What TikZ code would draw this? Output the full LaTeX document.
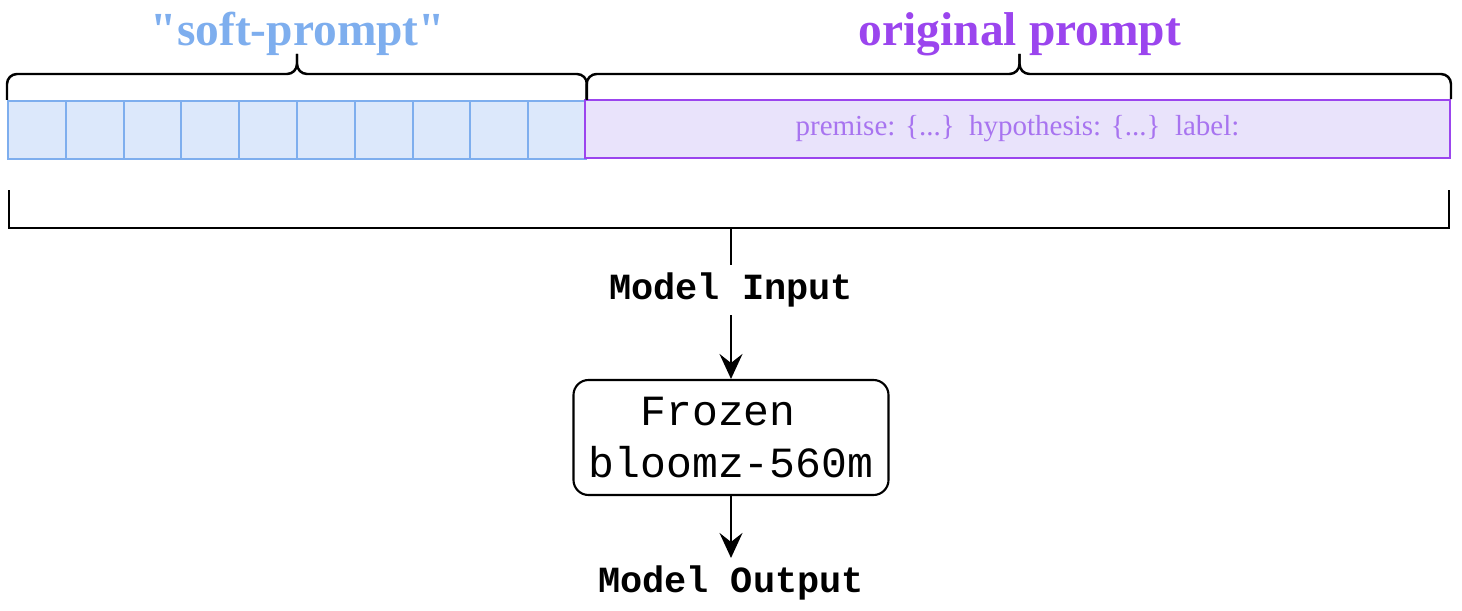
\documentclass[tikz,border=0pt]{standalone}
\usepackage{fontspec}
\setmainfont{Liberation Serif}
\setmonofont{Liberation Mono}
\newfontfamily\titleserif{Liberation Serif}[Ligatures=TeXOff]
\usetikzlibrary{arrows.meta,positioning,decorations.pathreplacing}
\definecolor{softline}{HTML}{7EAEEE}
\definecolor{softfill}{HTML}{DCE8FB}
\definecolor{origline}{HTML}{9B45EE}
\definecolor{origfill}{HTML}{E9E3FB}
\definecolor{origtext}{HTML}{A874F0}

\begin{document}
\begin{tikzpicture}[
    line/.style={draw=black, line width=1.4pt},
    cell/.style={draw=softline, fill=softfill, line width=1.1pt, minimum width=1.156cm, minimum height=1.16cm, inner sep=0pt, anchor=north west},
    origbox/.style={draw=origline, fill=origfill, line width=1.1pt, minimum width=17.3cm, minimum height=1.16cm, inner sep=0pt, text=origtext, font=\fontsize{16.5}{20}\selectfont},
    title/.style={anchor=base, font=\titleserif\fontsize{27}{32}\selectfont\bfseries},
    bracket/.style={line, rounded corners=0.2cm},
    io/.style={font=\ttfamily\bfseries\fontsize{21}{25}\selectfont, inner sep=0.15cm},
    model/.style={draw, line width=1.2pt, rounded corners=0.3cm, minimum width=6.3cm, minimum height=2.3cm, align=center, font=\ttfamily\fontsize{24.5}{29.4}\selectfont},
    arr/.style={line, -{Stealth[length=0.5cm, width=0.46cm, inset=0.18cm]}}
]
    \useasboundingbox (0,0) rectangle (29.24,12.2);

    % soft prompt cells and original prompt box
    \foreach \i in {0,...,9}
        \node[cell] (c\i) at ({0.14+1.156*\i},10.2) {};
    \node[origbox] (P) at (20.35,9.62) {premise: \{...\}\ \ hypothesis: \{...\}\ \ label:};

    % braces (two halves each, meeting at the tip)
    \draw[bracket] (c0.north west) |- (5.94,10.72) -- (5.94,11.12);
    \draw[bracket] (c9.north east) |- (5.94,10.72) -- (5.94,11.12);
    \draw[bracket] ([xshift=1.5pt]P.north west) |- (20.39,10.72) -- (20.39,11.12);
    \draw[bracket] (P.north east) |- (20.39,10.72) -- (20.39,11.12);

    % titles
    \node[title, text=softline] (soft) at (5.96,11.28) {"soft-prompt"};
    \node[title, text=origline] (orig) at (20.4,11.28) {original prompt};

    % bracket under the whole input
    \coordinate (BL) at (0.18,8.4);
    \coordinate (BR) at (28.98,8.4);
    \coordinate (S) at (14.62,7.64);
    \draw[line] (BL) -- (0.18,7.64) -- (28.98,7.64) -- (BR);

    % model
    \node[io] (in) at (14.62,6.4) {Model Input};
    \node[model] (M) at (14.62,3.45) {Frozen\phantom{x}\\bloomz-560m};
    \node[io] (out) at (14.62,0.54) {Model Output};

    \draw[line] (S) -- (in.north);
    \draw[arr] (in.south) -- (M.north);
    \draw[arr] (M.south) -- (out.north);
\end{tikzpicture}
\end{document}
